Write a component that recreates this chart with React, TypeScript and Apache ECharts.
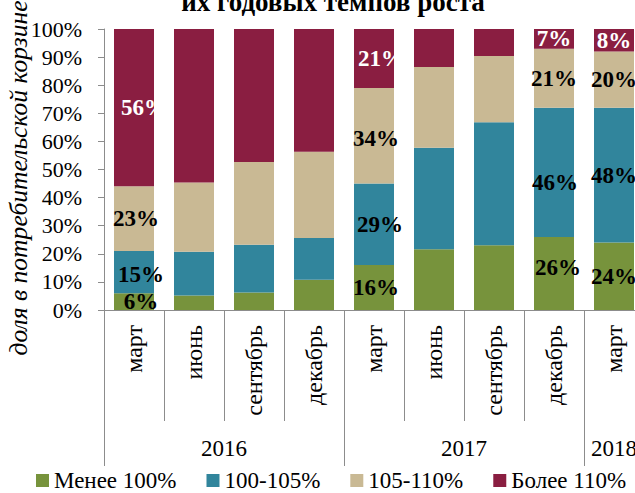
import React, { useEffect, useRef } from "react";
import * as echarts from "echarts";

const months = ["март", "июнь", "сентябрь", "декабрь", "март", "июнь", "сентябрь", "декабрь", "март"];
const years = ["2016", "2017", "2018"];
const yearSpans = [4, 4, 1];
const seriesNames = ["Менее 100%", "100-105%", "105-110%", "Более 110%"];
const below100 = [6, 5.2, 6.2, 10.8, 16, 21.6, 23.0, 26, 24];
const from100to105 = [15, 15.5, 17.0, 14.8, 29, 36.1, 43.8, 46, 48];
const from105to110 = [23, 24.7, 29.5, 30.7, 34, 28.8, 23.6, 21, 20];
const above110 = [56, 54.6, 47.3, 43.7, 21, 13.5, 9.6, 7, 8];
const yTicks = [0, 10, 20, 30, 40, 50, 60, 70, 80, 90, 100];
const labeledBars = [0, 4, 7, 8];

const colors = ["#77933C", "#31859C", "#C9B994", "#8A1E41"];
const labelColors = ["#000", "#000", "#000", "#fff"];
// [seriesIndex, barIndex, dx, dy]
const labelShifts: [number, number, number, number][] = [
  [3, 0, 10, 0], [2, 0, 2, 0], [1, 0, 7, 2], [0, 0, 7, 0],
  [3, 4, 7, 0], [2, 4, 2, 3], [1, 4, 6, 0], [0, 4, 2, 0],
  [1, 7, 1, 10], [0, 7, 4, -6],
];

const FONT = "'Liberation Serif', 'Times New Roman', serif";
const AXIS_GRAY = "#8c8c8c";

export default function App() {
  const ref = useRef<HTMLDivElement>(null);
  useEffect(() => {
    if (!ref.current) return;
    const chart = echarts.init(ref.current, undefined, { renderer: "svg" });
    const all = [below100, from100to105, from105to110, above110];

    const yearTickVals: number[] = [];
    const yearLabelVals: number[] = [];
    let acc = 0;
    yearSpans.forEach((s) => {
      yearTickVals.push(acc);
      yearLabelVals.push(acc + s / 2);
      acc += s;
    });

    const series = all.map((vals, si) => ({
      name: seriesNames[si],
      type: "bar",
      stack: "total",
      barWidth: 40,
      xAxisIndex: 0,
      itemStyle: { color: colors[si] },
      data: vals.map((v, bi) => {
        const shift = labelShifts.find((s) => s[0] === si && s[1] === bi);
        return {
          value: v,
          label: {
            show: labeledBars.includes(bi),
            position: "inside",
            offset: shift ? [shift[2], shift[3]] : [0, 0],
            formatter: () => Math.round(v) + "%",
            color: labelColors[si],
            fontFamily: FONT,
            fontWeight: "bold",
            fontSize: 23,
          },
        };
      }),
    }));

    chart.setOption({
      animation: false,
      color: colors,
      grid: { left: 104, top: 29, right: 16, height: 281 },
      legend: {
        left: 31,
        top: 464,
        itemWidth: 13,
        itemHeight: 13,
        itemGap: 30,
        icon: "rect",
        data: seriesNames,
        textStyle: { fontFamily: FONT, fontSize: 23, color: "#000" },
      },
      graphic: [
        {
          type: "text",
          x: 333,
          y: 15,
          style: {
            text: "их годовых темпов роста",
            fontFamily: FONT,
            fontWeight: "bold",
            fontSize: 27,
            fill: "#000",
            align: "center",
            verticalAlign: "bottom",
          },
        },
        {
          type: "text",
          x: 18,
          y: 178,
          rotation: Math.PI / 2,
          style: {
            text: "доля в потребительской корзине",
            fontFamily: FONT,
            fontStyle: "italic",
            fontSize: 25.6,
            fill: "#000",
            align: "center",
            verticalAlign: "middle",
          },
        },
      ],
      xAxis: [
        {
          type: "category",
          data: months,
          position: "bottom",
          axisLine: { show: true, lineStyle: { color: AXIS_GRAY, width: 1 } },
          axisTick: { show: true, interval: 0, length: 111, alignWithLabel: false, lineStyle: { color: AXIS_GRAY } },
          axisLabel: { interval: 0, rotate: 90, margin: 15, fontFamily: FONT, fontSize: 24, color: "#000" },
        },
        {
          type: "value",
          min: 0,
          max: months.length,
          position: "bottom",
          gridIndex: 0,
          axisLine: { show: false },
          splitLine: { show: false },
          axisTick: { show: true, customValues: yearTickVals, length: 156, lineStyle: { color: AXIS_GRAY } },
          axisLabel: {
            customValues: yearLabelVals,
            margin: 127,
            fontFamily: FONT,
            fontSize: 23,
            color: "#000",
            formatter: (v: number) => {
              const idx = yearLabelVals.findIndex((x) => Math.abs(x - v) < 1e-6);
              return idx >= 0 ? years[idx] : "";
            },
          },
        },
      ],
      yAxis: {
        type: "value",
        min: 0,
        max: 100,
        interval: 10,
        axisLine: { show: true, lineStyle: { color: AXIS_GRAY } },
        axisTick: { show: true, length: 6, lineStyle: { color: AXIS_GRAY } },
        splitLine: { show: false },
        axisLabel: {
          margin: 22,
          fontFamily: FONT,
          fontSize: 22,
          color: "#000",
          formatter: (v: number) => (yTicks.includes(v) ? v + "%" : ""),
        },
      },
      series,
    });
    return () => chart.dispose();
  }, []);
  return (
    <div style={{ width: 635, height: 493, position: "absolute", left: 0, top: 0, overflow: "hidden" }}>
      <div ref={ref} style={{ width: 660, height: 493 }} />
    </div>
  );
}
